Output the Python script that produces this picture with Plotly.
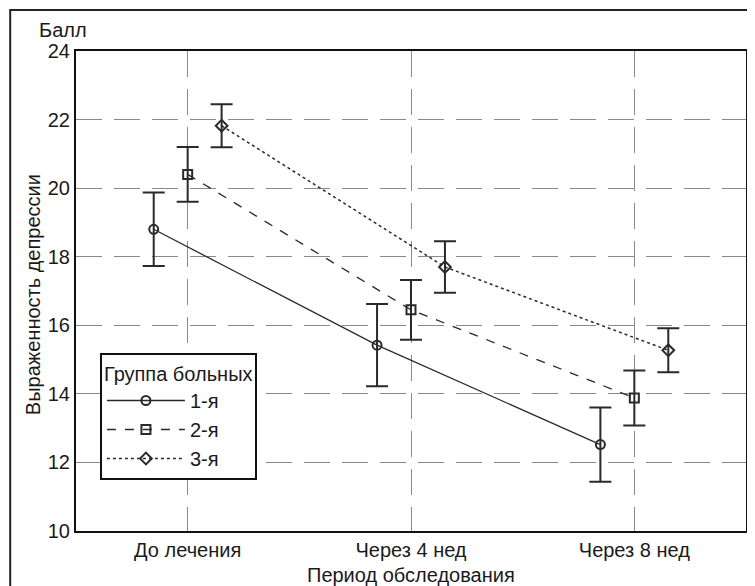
import plotly.graph_objects as go

categories = ["До лечения", "Через 4 нед", "Через 8 нед"]
group_names = ["1-я", "2-я", "3-я"]
means_g1 = [18.8, 15.42, 12.52]
means_g2 = [20.4, 16.45, 13.88]
means_g3 = [21.82, 17.7, 15.27]
err_g1 = [1.07, 1.2, 1.08]
err_g2 = [0.8, 0.87, 0.8]
err_g3 = [0.63, 0.75, 0.64]

# page body has an 8px margin; figure is sized so it fits the window
OFF = 8
W, H = 755 - OFF, 586 - OFF
L, R, T, B = 76 - OFF, 7, 51 - OFF, 55
PW, PH = W - L - R, H - T - B

def px2x(px):  # window pixel -> paper x
    return (px - OFF - L) / PW

def py2y(py):  # window pixel -> paper y
    return (H - B - (py - OFF)) / PH

FONT = "Liberation Sans, Arial, sans-serif"
TXT = "#1a1a1a"
INK = "#2a2a2a"
FS = 20

fig = go.Figure()
offsets = [-0.152, 0.0, 0.152]
styles = [("solid", "circle-open"), ("dash", "square-open"), ("dot", "diamond-open")]
all_means = [means_g1, means_g2, means_g3]
all_errs = [err_g1, err_g2, err_g3]
for name, m, e, off, (dash, sym) in zip(group_names, all_means, all_errs, offsets, styles):
    xs = [i + off for i in range(len(categories))]
    fig.add_trace(go.Scatter(
        x=xs, y=m, name=name, mode="lines+markers",
        line=dict(color=INK, width=1.3 if dash != "dot" else 1.5, dash=dash),
        marker=dict(symbol=sym, size=9, color=INK, line=dict(width=2, color=INK)),
        error_y=dict(type="data", array=e, visible=True, color=INK, thickness=2, width=11),
    ))

fig.update_layout(
    width=W, height=H,
    margin=dict(l=L, r=R, t=T, b=B),
    paper_bgcolor="white", plot_bgcolor="white",
    font=dict(family=FONT, size=FS, color=TXT),
    showlegend=True,
    legend=dict(
        x=px2x(100), y=py2y(353), xanchor="left", yanchor="top",
        bgcolor="white", bordercolor="#111", borderwidth=2,
        title=dict(text="Группа больных", font=dict(size=FS, family=FONT, color=TXT)),
        font=dict(size=FS, family=FONT, color=TXT),
        itemwidth=78, tracegroupgap=0,
    ),
    xaxis=dict(
        range=[-0.5, 2.5], tickvals=list(range(len(categories))), ticktext=categories,
        showgrid=True, gridcolor="#8a8a8a", gridwidth=1, griddash="26px,12px",
        zeroline=False, showline=True, linecolor="#111", linewidth=2, mirror=True,
        ticks="", tickfont=dict(size=FS, family=FONT, color=TXT),
    ),
    yaxis=dict(
        range=[10, 24], dtick=2, tick0=10,
        showgrid=True, gridcolor="#8a8a8a", gridwidth=1, griddash="26px,12px",
        zeroline=False, showline=True, linecolor="#111", linewidth=2, mirror=True,
        ticks="", tickfont=dict(size=FS, family=FONT, color=TXT),
    ),
    shapes=[dict(type="rect", xref="paper", yref="paper",
                 x0=px2x(10), y0=py2y(640), x1=px2x(800), y1=py2y(10),
                 line=dict(color="#222", width=2), layer="below")],
    annotations=[
        dict(text="Балл", xref="paper", yref="paper", x=px2x(37), y=py2y(30),
             xanchor="left", yanchor="middle", showarrow=False,
             font=dict(size=FS, family=FONT, color=TXT)),
        dict(text="Выраженность депрессии", xref="paper", yref="paper",
             x=px2x(33), y=py2y(295), textangle=-90, xanchor="center", yanchor="middle",
             showarrow=False, font=dict(size=FS, family=FONT, color=TXT)),
        dict(text="Период обследования", xref="paper", yref="paper",
             x=0.5, y=py2y(575), xanchor="center", yanchor="middle",
             showarrow=False, font=dict(size=FS, family=FONT, color=TXT)),
    ],
)

fig.write_html("out.html")
